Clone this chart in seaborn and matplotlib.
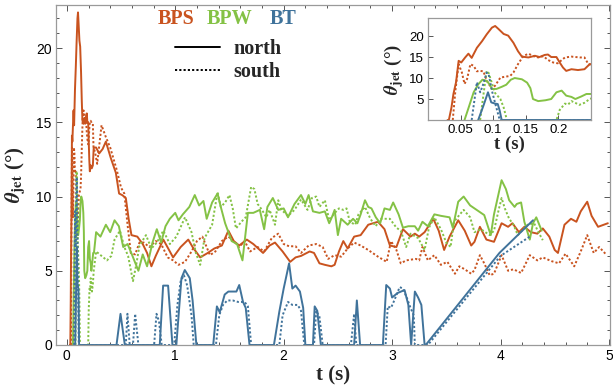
import numpy as np
import pandas as pd
import matplotlib
matplotlib.use("Agg")
import matplotlib.pyplot as plt
import seaborn as sns
from matplotlib.lines import Line2D
from matplotlib.ticker import MultipleLocator, FuncFormatter, NullLocator

# ---------------- data ----------------
bps_n_t = [0.030, 0.032, 0.036, 0.039, 0.043, 0.047, 0.051, 0.057, 0.062, 0.067, 0.075, 0.083, 0.090, 0.098, 0.103,
           0.108, 0.116, 0.123, 0.131, 0.138, 0.144, 0.154, 0.164, 0.171, 0.179, 0.184, 0.189, 0.197, 0.202, 0.207,
           0.212, 0.220, 0.230, 0.240, 0.248, 0.27, 0.298, 0.33, 0.36, 0.405, 0.452, 0.482, 0.51, 0.544, 0.57, 0.596,
           0.65, 0.70, 0.74, 0.78, 0.82, 0.89, 0.98, 1.05, 1.12, 1.16, 1.23, 1.30, 1.36, 1.43, 1.49, 1.54, 1.59, 1.66,
           1.72, 1.81, 1.87, 1.92, 1.99, 2.06, 2.11, 2.16, 2.24, 2.28, 2.33, 2.38, 2.44, 2.47, 2.51, 2.55, 2.59, 2.65,
           2.71, 2.78, 2.87, 2.93, 2.98, 3.04, 3.10, 3.17, 3.21, 3.25, 3.30, 3.38, 3.43, 3.48, 3.53, 3.61, 3.67, 3.73,
           3.76, 3.81, 3.87, 3.94, 4.01, 4.07, 4.11, 4.17, 4.22, 4.28, 4.34, 4.39, 4.45, 4.50, 4.53, 4.59, 4.65, 4.70,
           4.74, 4.80, 4.84, 4.90, 4.99]
bps_n_y = [0, 0, 3.0, 6.2, 9.0, 14.1, 13.7, 14.9, 15.8, 14.8, 17.2, 18.8, 20.4, 22.0, 22.4,
           21.7, 20.5, 20.1, 18.4, 16.4, 15.1, 14.9, 15.3, 15.0, 15.5, 15.6, 15.0, 15.0, 13.7, 12.5,
           11.7, 12.1, 11.9, 12.1, 13.3, 13.3, 12.9, 13.2, 13.7, 12.6, 11.6, 10.2, 10.1, 9.9, 8.5, 7.4,
           7.3, 6.8, 6.2, 5.3, 6.0, 7.1, 5.9, 6.6, 7.1, 6.6, 5.9, 6.2, 6.5, 6.7, 7.7, 7.0, 6.7, 7.1,
           6.8, 6.2, 6.7, 6.9, 6.3, 5.6, 5.9, 6.0, 6.3, 6.2, 5.5, 5.4, 5.3, 5.4, 6.3, 7.0, 6.5, 7.3,
           7.4, 8.1, 8.3, 7.8, 6.7, 6.6, 7.8, 7.3, 7.5, 7.3, 7.6, 8.5, 7.7, 6.4, 7.3, 8.4, 7.7, 6.7,
           6.95, 7.96, 7.1, 6.95, 8.2, 7.96, 8.2, 7.6, 7.96, 7.6, 7.5, 7.85, 7.3, 6.4, 6.2, 8.1, 8.5, 8.3,
           9.0, 9.65, 8.7, 7.96, 8.2]

bps_s_t = [0.038, 0.042, 0.047, 0.052, 0.056, 0.060, 0.065, 0.070, 0.075, 0.080, 0.085, 0.090, 0.098, 0.103, 0.111,
           0.118, 0.126, 0.131, 0.138, 0.146, 0.154, 0.162, 0.169, 0.177, 0.184, 0.192, 0.199, 0.210, 0.220, 0.233,
           0.240, 0.246, 0.26, 0.28, 0.30, 0.32, 0.36, 0.40, 0.46, 0.50, 0.53, 0.56, 0.59, 0.63, 0.67, 0.71, 0.76,
           0.82, 0.87, 0.93, 0.98, 1.03, 1.09, 1.15, 1.20, 1.25, 1.32, 1.37, 1.43, 1.49, 1.54, 1.59, 1.64, 1.69,
           1.76, 1.82, 1.89, 1.95, 2.00, 2.05, 2.11, 2.16, 2.23, 2.30, 2.36, 2.41, 2.47, 2.53, 2.59, 2.65, 2.71,
           2.78, 2.87, 2.95, 2.99, 3.04, 3.08, 3.13, 3.22, 3.25, 3.28, 3.33, 3.39, 3.45, 3.51, 3.58, 3.62, 3.67,
           3.73, 3.76, 3.81, 3.85, 3.90, 3.94, 4.01, 4.07, 4.12, 4.19, 4.27, 4.34, 4.39, 4.47, 4.54, 4.60, 4.68,
           4.74, 4.80, 4.86, 4.91, 4.98]
bps_s_y = [0, 7.0, 13.3, 11.3, 8.6, 9.8, 13.3, 12.9, 11.6, 11.7, 11.6, 9.4, 7.4, 8.2, 10.1,
           10.3, 10.5, 11.3, 13.3, 15.2, 15.8, 15.2, 14.9, 15.2, 14.3, 13.7, 13.5, 14.9, 15.1, 14.9,
           14.9, 13.3, 13.0, 12.2, 13.5, 14.8, 14.0, 13.3, 11.8, 10.6, 10.2, 8.1, 6.2, 6.1, 6.9, 6.9, 6.6,
           7.0, 6.8, 5.9, 5.7, 5.4, 5.6, 6.3, 7.0, 7.3, 6.05, 6.3, 7.0, 7.3, 7.0, 6.6, 7.0, 6.3,
           6.6, 6.3, 7.2, 7.5, 6.8, 6.65, 6.65, 6.2, 6.7, 6.8, 6.6, 5.8, 6.05, 5.95, 6.5, 6.9, 6.7,
           6.4, 5.95, 5.6, 7.0, 6.4, 5.5, 5.7, 5.8, 5.7, 6.6, 5.7, 6.05, 5.4, 5.6, 4.8, 5.3, 5.1,
           4.8, 5.05, 6.05, 5.5, 4.7, 4.8, 6.05, 5.0, 5.1, 4.85, 6.05, 5.7, 5.9, 5.65, 5.5, 6.15, 5.3,
           6.3, 7.4, 6.2, 6.6, 6.05]

bpw_n_t = [0.056, 0.062, 0.070, 0.077, 0.0835, 0.090, 0.095, 0.098, 0.105, 0.113, 0.120, 0.127, 0.133, 0.144, 0.152,
           0.157, 0.161, 0.169, 0.180, 0.189, 0.197, 0.205, 0.212, 0.220, 0.226, 0.235, 0.243, 0.25, 0.27, 0.31,
           0.36, 0.40, 0.44, 0.48, 0.52, 0.56, 0.60, 0.66, 0.70, 0.74, 0.79, 0.83, 0.87, 0.91, 0.95, 1.00, 1.03,
           1.07, 1.13, 1.18, 1.22, 1.26, 1.29, 1.34, 1.39, 1.42, 1.46, 1.52, 1.57, 1.62, 1.67, 1.72, 1.78, 1.82,
           1.85, 1.90, 1.95, 2.00, 2.04, 2.10, 2.16, 2.20, 2.23, 2.27, 2.33, 2.38, 2.42, 2.45, 2.47, 2.50, 2.53,
           2.59, 2.64, 2.68, 2.71, 2.75, 2.78, 2.81, 2.85, 2.89, 2.93, 2.98, 3.01, 3.06, 3.10, 3.15, 3.21, 3.24,
           3.28, 3.33, 3.39, 3.45, 3.53, 3.56, 3.61, 3.66, 3.72, 3.76, 3.85, 3.91, 3.94, 4.01, 4.05, 4.08, 4.13,
           4.15, 4.19, 4.22, 4.27, 4.30, 4.33, 4.38]
bpw_n_y = [0, 2.8, 6.6, 8.5, 9.6, 9.3, 8.4, 7.4, 7.4, 7.9, 8.4, 9.6, 10.0, 9.7, 8.9,
           7.6, 5.0, 4.5, 4.7, 5.0, 6.6, 7.0, 5.8, 5.5, 5.0, 5.6, 6.2, 6.2, 7.6, 7.3,
           8.1, 7.6, 8.4, 8.0, 6.6, 6.8, 6.1, 5.0, 6.1, 5.3, 6.9, 7.8, 6.9, 8.0, 8.5, 8.9, 8.4,
           8.8, 9.3, 10.1, 9.4, 9.7, 8.5, 9.6, 10.2, 9.3, 8.2, 7.0, 6.8, 5.7, 8.9, 8.9, 9.1, 7.8,
           9.3, 9.9, 9.1, 9.2, 8.6, 9.5, 10.1, 9.5, 10.1, 9.0, 8.9, 9.0, 8.2, 8.7, 9.1, 7.4, 8.5,
           8.1, 8.5, 8.2, 8.8, 9.75, 9.3, 9.2, 8.6, 8.2, 9.2, 9.1, 9.6, 8.8, 7.9, 8.0, 8.0, 7.7,
           8.3, 8.0, 8.8, 8.7, 8.6, 7.9, 9.65, 10.0, 9.4, 9.2, 8.75, 7.4, 8.8, 11.1, 10.5, 9.75, 9.3,
           9.5, 9.6, 8.3, 7.1, 8.2, 8.6, 7.7]

bpw_s_t = [0.080, 0.085, 0.090, 0.093, 0.098, 0.103, 0.111, 0.116, 0.121, 0.197, 0.202, 0.210, 0.215, 0.220, 0.227,
           0.232, 0.240, 0.248, 0.27, 0.32, 0.37, 0.41, 0.44, 0.49, 0.53, 0.565, 0.61, 0.64, 0.67, 0.73, 0.78,
           0.83, 0.89, 0.95, 1.01, 1.09, 1.15, 1.19, 1.23, 1.27, 1.34, 1.39, 1.42, 1.46, 1.50, 1.53, 1.56, 1.61,
           1.65, 1.70, 1.73, 1.76, 1.80, 1.84, 1.87, 1.92, 1.95, 1.98, 2.04, 2.10, 2.16, 2.22, 2.26, 2.30, 2.33,
           2.38, 2.42, 2.46, 2.51, 2.55, 2.58, 2.61, 2.66, 2.69, 2.75, 2.80, 2.85, 2.89, 2.98, 3.04, 3.08, 3.13,
           3.17, 3.24, 3.30, 3.34, 3.39, 3.45, 3.50, 3.54, 3.57, 3.62, 3.66, 3.72, 3.76, 3.82, 3.90, 3.94, 3.98,
           4.01, 4.04, 4.08, 4.12, 4.16, 4.21, 4.25, 4.31, 4.35, 4.39]
bpw_s_y = [0, 6.0, 11.7, 11.2, 8.8, 6.4, 5.0, 3.0, 0, 0, 2.4, 3.9, 3.7, 4.5, 4.0,
           3.6, 4.1, 5.0, 6.3, 6.0, 5.7, 6.0, 7.1, 7.7, 6.6, 6.0, 4.3, 5.4, 6.7, 7.4, 6.5,
           6.9, 7.7, 6.8, 7.3, 8.6, 7.6, 6.2, 5.4, 7.2, 8.1, 10.3, 9.3, 9.6, 10.1, 9.2, 7.85, 8.3,
           8.6, 10.65, 10.5, 9.5, 9.1, 8.6, 9.1, 8.1, 9.75, 9.1, 8.7, 9.1, 9.8, 9.1, 9.9, 10.0, 9.3,
           9.75, 8.4, 8.8, 9.2, 9.1, 9.2, 8.3, 8.1, 8.8, 9.3, 8.5, 8.0, 8.5, 8.5, 7.9, 7.7, 6.6,
           7.5, 7.2, 6.4, 7.9, 8.6, 7.8, 6.9, 6.6, 8.3, 8.75, 9.1, 8.6, 7.6, 7.8, 7.4, 7.7, 9.0,
           9.9, 9.2, 8.5, 8.1, 7.4, 7.8, 8.1, 8.2, 7.6, 7.06]

bt_n_t = [0.077, 0.085, 0.092, 0.097, 0.103, 0.107, 0.110, 0.113, 0.458, 0.495, 0.535, 0.857, 0.888, 0.934, 0.974,
          1.010, 1.057, 1.088, 1.134, 1.160, 1.195, 1.350, 1.384, 1.410, 1.456, 1.490, 1.564, 1.590, 1.625, 1.650,
          1.685, 1.910, 1.960, 2.000, 2.050, 2.080, 2.110, 2.150, 2.180, 2.200, 2.270, 2.286, 2.310, 2.343, 2.650,
          2.675, 2.705, 2.915, 2.946, 2.980, 3.000, 3.050, 3.115, 3.150, 3.176, 3.210, 3.240, 3.270, 3.300, 3.310,
          3.990, 4.300]
bt_n_y = [0, 3.4, 6.6, 4.2, 3.9, 3.8, 2.2, 0, 0, 2.1, 0, 0, 4.0, 4.0, 0,
          0, 4.5, 5.05, 4.5, 3.0, 0, 0, 2.6, 2.2, 3.4, 3.6, 3.6, 4.04, 2.9, 2.5,
          0, 0, 2.25, 3.8, 5.5, 3.8, 4.0, 3.6, 2.5, 0, 0, 2.6, 2.3, 0, 0,
          3.0, 0, 0, 4.04, 3.8, 3.2, 3.5, 3.7, 2.7, 0, 3.6, 3.2, 2.7, 0, 0,
          6.2, 8.4]

bt_s_t = [0.067, 0.075, 0.080, 0.084, 0.090, 0.093, 0.098, 0.103, 0.110, 0.544, 0.559, 0.580, 0.610, 0.630, 0.660,
          0.805, 0.827, 0.850, 0.875, 0.990, 1.020, 1.050, 1.080, 1.110, 1.150, 1.170, 1.375, 1.406, 1.440, 1.480,
          1.530, 1.580, 1.640, 1.670, 1.700, 1.960, 1.990, 2.040, 2.080, 2.130, 2.160, 2.190, 2.280, 2.300, 2.330,
          2.360, 2.620, 2.650, 2.670, 2.940, 2.960, 2.990, 3.020, 3.070, 3.100, 3.140, 3.170, 3.200, 3.210, 3.330,
          4.000, 4.270]
bt_s_y = [0, 9.0, 6.6, 8.2, 11.3, 10.9, 7.0, 4.0, 0, 0, 2.1, 0, 0, 2.1, 0,
          0, 2.1, 1.6, 0, 0, 2.7, 4.3, 4.7, 4.0, 2.0, 0, 0, 2.0, 2.7, 3.0,
          3.0, 2.9, 2.9, 2.6, 0, 0, 2.0, 2.9, 2.7, 2.7, 2.3, 0, 0, 2.3, 1.9,
          0, 0, 2.1, 0, 0, 2.6, 2.5, 3.0, 3.9, 3.8, 3.1, 2.5, 2.0, 0, 0,
          6.0, 7.3]

series_names = ["BPS", "BPW", "BT"]
series_colors = {"BPS": "#C9531F", "BPW": "#84C245", "BT": "#40739B"}
series = [
    ("BPS", "north", bps_n_t, bps_n_y), ("BPS", "south", bps_s_t, bps_s_y),
    ("BPW", "north", bpw_n_t, bpw_n_y), ("BPW", "south", bpw_s_t, bpw_s_y),
    ("BT", "north", bt_n_t, bt_n_y), ("BT", "south", bt_s_t, bt_s_y),
]
hemi_names = ["north", "south"]
hemi_styles = {"north": "-", "south": (0, (1.1, 1.1))}

# ---------------- figure ----------------
sns.set_theme(style="white")
plt.rcParams["font.family"] = ["Liberation Sans", "DejaVu Sans"]
plt.rcParams["mathtext.fontset"] = "stix"

W, H = 613, 390
fig = plt.figure(figsize=(W / 100, H / 100), dpi=100)
ax = fig.add_axes([56 / W, 45 / H, 554 / W, 340 / H])

frame_col = "#9a9a9a"


def style_axes(a, xmaj, xmin, ymaj, ymin, fs, majlen, minlen):
    for sp in a.spines.values():
        sp.set_color(frame_col)
        sp.set_linewidth(0.9)
    a.xaxis.set_major_locator(MultipleLocator(xmaj))
    a.xaxis.set_minor_locator(MultipleLocator(xmin))
    a.yaxis.set_major_locator(MultipleLocator(ymaj))
    a.yaxis.set_minor_locator(MultipleLocator(ymin))
    a.tick_params(which="both", direction="in", top=True, right=True, bottom=True, left=True,
                  color="#555555", labelsize=fs, labelcolor="black", width=0.7)
    a.tick_params(which="major", length=majlen, pad=3)
    a.tick_params(which="minor", length=minlen)


def draw_series(a, lw):
    for name, hemi, tt, yy in series:
        sns.lineplot(x=tt, y=yy, ax=a, color=series_colors[name], linestyle=hemi_styles[hemi],
                     linewidth=lw, sort=False, estimator=None, legend=False)


draw_series(ax, 1.4)
ax.set_xlim(-0.1, 5.01)
ax.set_ylim(0, 22.9)
style_axes(ax, 1, 0.2, 5, 1, 10, 4.5, 2.5)

label_font = dict(family=["Liberation Serif", "DejaVu Serif"], weight="bold")
ax.set_xlabel("t (s)", fontsize=15, labelpad=2, **label_font)
ax.set_ylabel(r"$\boldsymbol{\theta}_{\mathbf{jet}}$ (°)", fontsize=15, labelpad=6, **label_font)

# legend: colour names
for name, xpx in zip(series_names, [176, 230, 283]):
    fig.text(xpx / W, 1 - 19 / H, name, color=series_colors[name], fontsize=14.5,
             ha="center", va="center", **label_font)

handles = [Line2D([], [], color="black", linestyle=hemi_styles[h], linewidth=1.4) for h in hemi_names]
leg = fig.legend(handles, hemi_names, loc="upper left", bbox_to_anchor=(175 / W, 1 - 39.5 / H),
                 frameon=False, borderpad=0, borderaxespad=0, handlelength=2.25, handletextpad=0.65,
                 labelspacing=0.12,
                 prop=dict(family=["Liberation Serif", "DejaVu Serif"], weight="bold", size=14.5))

# ---------------- inset ----------------
axi = fig.add_axes([428 / W, 1 - 120 / H, 163 / W, 102 / H])
draw_series(axi, 1.4)
axi.set_xlim(0, 0.25)
axi.set_ylim(0, 24.3)
style_axes(axi, 0.05, 0.01, 5, 1, 9.5, 3.5, 2)
axi.xaxis.set_major_formatter(FuncFormatter(lambda v, p: "" if (v < 1e-9 or v > 0.24) else f"{v:g}"))
axi.yaxis.set_major_formatter(FuncFormatter(lambda v, p: "" if v < 1e-9 else f"{v:g}"))
axi.xaxis.set_minor_locator(NullLocator())
axi.yaxis.set_minor_locator(NullLocator())
axi.tick_params(which="major", top=False, right=False)
axi.set_xlabel("t (s)", fontsize=13.5, labelpad=0, **label_font)
axi.set_ylabel(r"$\boldsymbol{\theta}_{\mathbf{jet}}$ (°)", fontsize=13.5, labelpad=2, **label_font)
axi.set_facecolor("white")

fig.savefig("out.png", dpi=100)
